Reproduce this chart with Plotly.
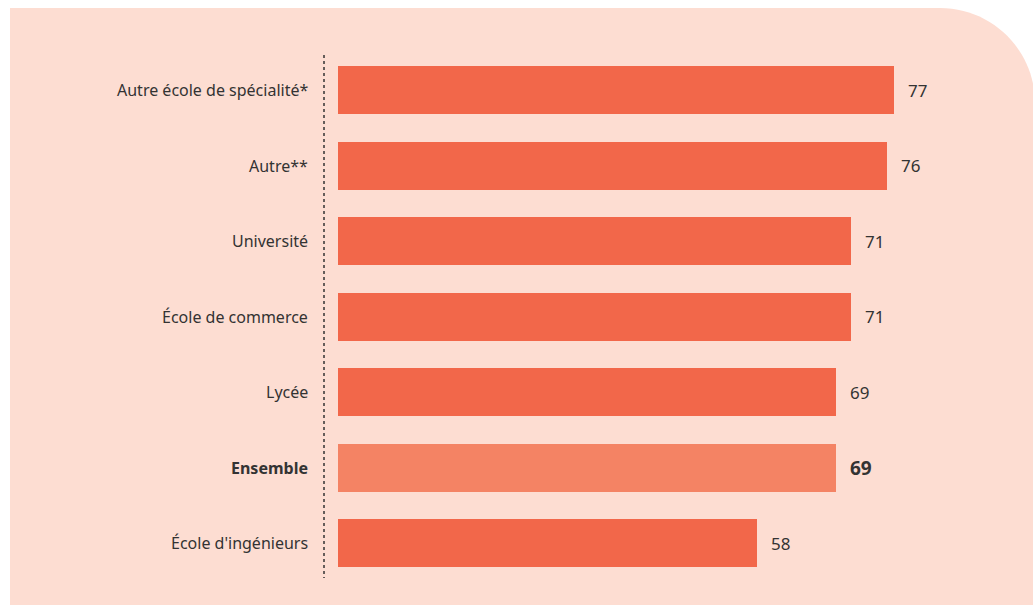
import plotly.graph_objects as go

categories = ["Autre école de spécialité*", "Autre**", "Université", "École de commerce",
              "Lycée", "Ensemble", "École d'ingénieurs"]
values = [77, 76, 71, 71, 69, 69, 58]
highlight = "Ensemble"

W, H = 1033, 605
X0PX = 338          # pixel of value 0
PXU = 7.22          # pixels per unit
Y0PX = 90           # pixel center of first bar
STEP = 75.5         # pixel distance between bars

xr = [(0 - X0PX) / PXU, (W - X0PX) / PXU]
yr = [(H - Y0PX) / STEP, (0 - Y0PX) / STEP]

def dx(px):
    return (px - X0PX) / PXU

def dy(py):
    return (py - Y0PX) / STEP

main_col = "#F2674A"
hi_col = "#F48364"
bg_col = "#FDDDD2"
txt = "#333333"
font = "Noto Sans"

idx = list(range(len(categories)))
colors = [hi_col if c == highlight else main_col for c in categories]

fig = go.Figure()
fig.add_trace(go.Bar(
    x=values, y=idx, orientation="h", marker=dict(color=colors, line=dict(width=0)),
    width=48 / STEP, hoverinfo="skip", showlegend=False,
))

# background panel with rounded top-right corner
R = 95
k = 0.5523
L, T, Rt, B = 10, 8, W + 2, H + 2
path = (f"M {dx(L)},{dy(B)} L {dx(L)},{dy(T)} L {dx(Rt - R)},{dy(T)} "
        f"C {dx(Rt - R + k * R)},{dy(T)} {dx(Rt)},{dy(T + R - k * R)} {dx(Rt)},{dy(T + R)} "
        f"L {dx(Rt)},{dy(B)} Z")
fig.add_shape(type="path", path=path, xref="x", yref="y", fillcolor=bg_col,
              line=dict(width=0), layer="below")

# dotted separator
fig.add_shape(type="line", xref="x", yref="y", x0=dx(324), x1=dx(324), y0=dy(55), y1=dy(578),
              line=dict(color=txt, width=1.5, dash="dot"))

annotations = []
for i, (c, v) in enumerate(zip(categories, values)):
    bold = c == highlight
    annotations.append(dict(
        x=dx(310), y=i, xref="x", yref="y", xanchor="right", yanchor="middle",
        text=f"<b>{c}</b>" if bold else c, showarrow=False,
        font=dict(family=font, size=16, color=txt)))
    annotations.append(dict(
        x=v, y=i, xref="x", yref="y", xanchor="left", yanchor="middle", xshift=12,
        text=f"<b>{v}</b>" if bold else str(v), showarrow=False,
        font=dict(family=font, size=19 if bold else 17, color=txt)))

fig.update_layout(
    width=W, height=H, margin=dict(l=0, r=0, t=0, b=0),
    paper_bgcolor="white", plot_bgcolor="rgba(0,0,0,0)",
    xaxis=dict(range=xr, visible=False, fixedrange=True),
    yaxis=dict(range=yr, visible=False, fixedrange=True),
    annotations=annotations, bargap=0,
)
fig.write_html("out.html")
